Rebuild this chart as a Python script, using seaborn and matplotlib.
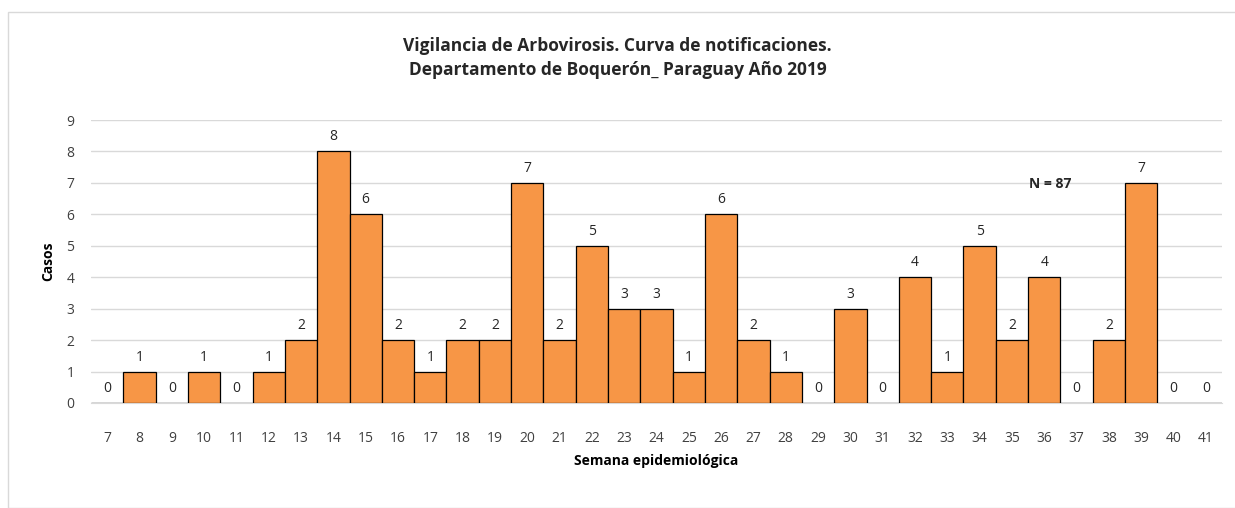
import matplotlib
matplotlib.use("Agg")
import matplotlib.pyplot as plt
import seaborn as sns
import pandas as pd
from matplotlib.patches import Rectangle

weeks = list(range(7, 42))
cases = [0, 1, 0, 1, 0, 1, 2, 8, 6, 2, 1, 2, 2, 7, 2, 5, 3, 3, 1, 6,
         2, 1, 0, 3, 0, 4, 1, 5, 2, 4, 0, 2, 7, 0, 0]
title = "Vigilancia de Arbovirosis. Curva de notificaciones.\nDepartamento de Boquerón_ Paraguay Año 2019"
n_label = "N = 87"

df = pd.DataFrame({"semana": [str(w) for w in weeks], "casos": cases})

sns.set_style("white")
plt.rcParams["font.family"] = ["Open Sans", "DejaVu Sans"]

fig = plt.figure(figsize=(12.35, 5.08), dpi=100)
ax = fig.add_axes([91 / 1235, 1 - 403 / 508, (1222 - 91) / 1235, (403 - 120) / 508])

sns.barplot(data=df, x="semana", y="casos", order=df["semana"], color="#F79646",
            width=1.0, edgecolor="black", linewidth=0.9, saturation=1, ax=ax, zorder=3)

for c in ax.containers:
    ax.bar_label(c, padding=5, fontsize=10, color="#262626")

ax.set_ylim(0, 9)
ax.set_yticks(range(0, 10))
ax.set_xlim(-0.5, len(weeks) - 0.5)
ax.grid(axis="y", color="#d9d9d9", linewidth=1, zorder=0)
for s in ["top", "right", "left"]:
    ax.spines[s].set_visible(False)
ax.spines["bottom"].set_color("#d9d9d9")
ax.tick_params(axis="x", length=0, pad=20, labelsize=10, labelcolor="#404040")
ax.tick_params(axis="y", length=0, pad=12, labelsize=10, labelcolor="#404040")

ax.set_xlabel("Semana epidemiológica", fontsize=10, fontweight="bold", labelpad=6, color="#000000")
ax.set_ylabel("Casos", fontsize=10, fontweight="bold", labelpad=8, color="#000000")

# N label sits between weeks 36 and 37 (categorical positions)
ax.text(weeks.index(36) + 0.2, 6.95, n_label, ha="center", va="center",
        fontsize=10, fontweight="bold")

fig.text(0.5, 1 - 58 / 508, title, ha="center", va="center", fontsize=12.5,
         fontweight="bold", linespacing=1.45)

fig.patches.append(Rectangle((8 / 1235, 0), 1.0, 1 - 12 / 508, transform=fig.transFigure,
                             fill=False, edgecolor="#d9d9d9", linewidth=1))

fig.savefig("out.png", dpi=100)
